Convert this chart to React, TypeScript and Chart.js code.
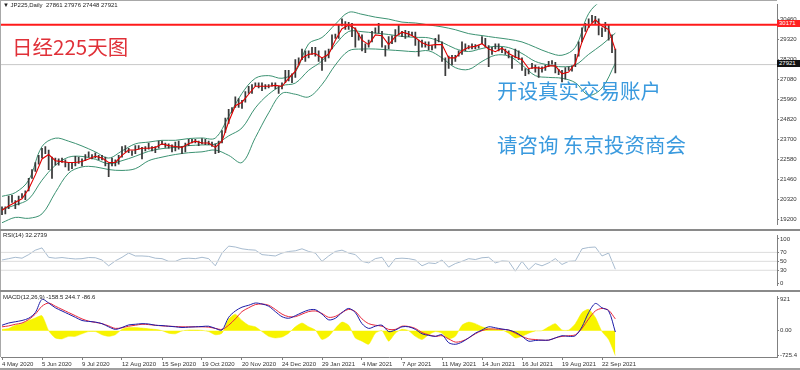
import React, { useEffect, useRef } from 'react';
import { Chart, registerables } from 'chart.js';
Chart.register(...registerables);

const FONT = "'Liberation Sans', Arial, sans-serif";
const CJK = "'Noto Sans CJK SC', sans-serif";

// ---------- data ----------
const candleStep = 2;
const candleHigh = [
  19900, 19900, 20500, 20550, 20250, 20500, 20650, 20800, 21500, 22000, 22400, 22800, 23200, 23300, 23100, 22700,
  22650, 22600, 22650, 22550, 22400, 22400, 22750, 22700, 22600, 22850, 23000, 22850, 22950, 22800, 22800, 22700,
  22350, 22650, 22550, 22800, 23300, 23350, 23200, 23050, 23350, 23350, 23250, 23300, 23500, 23300, 23300, 23600,
  23600, 23500, 23450, 23400, 23550, 23600, 23300, 23500, 23700, 23700, 23700, 23600, 23750, 23700, 23600, 23550,
  23450, 23600, 24200, 24900, 25400, 25500, 26100, 26000, 25900, 26400, 26700, 26800, 26900, 26900, 26900, 26800,
  26800, 26900, 26900, 26700, 26900, 27600, 27600, 27400, 28200, 28300, 28800, 28700, 28700, 28900, 28900, 28700,
  28300, 28700, 28800, 29600, 29650, 30150, 30500, 30350, 30300, 30250, 30000, 29700, 29600, 29100, 29300, 29800,
  30000, 30250, 29800, 29000, 29500, 29550, 29900, 30150, 29800, 29850, 29800, 29750, 29750, 29300, 29300, 29200,
  29200, 29000, 29400, 29600, 29200, 28300, 28400, 28450, 28450, 28700, 29200, 29100, 29000, 29100, 29050, 29000,
  29500, 29400, 29000, 28900, 29100, 29100, 28900, 28800, 28700, 28400, 28800, 28700, 28300, 27700, 27700, 28000,
  27900, 27800, 27800, 27900, 28100, 28150, 28050, 27650, 27600, 27750, 27800, 27850, 28500, 29200, 30000, 30250,
  30500, 30700, 30650, 30500, 30000, 30300, 30200, 29600, 28800
];
const candleLow = [
  19450, 19500, 19800, 20150, 19800, 20000, 20400, 20300, 20800, 21500, 21900, 22300, 22650, 22900, 22000, 21500,
  22250, 22250, 22400, 22150, 21950, 22050, 22200, 22350, 22200, 22500, 22700, 22600, 22650, 22550, 22550, 22200,
  21600, 22200, 22200, 22300, 22700, 23000, 22950, 22800, 22900, 23150, 22600, 23050, 23150, 23050, 22950, 23200,
  23400, 23250, 23200, 23000, 23050, 23150, 22900, 23000, 23350, 23500, 23500, 23350, 23450, 23400, 23400, 23300,
  22900, 22950, 23500, 24100, 24600, 25200, 25500, 25500, 25450, 25800, 26300, 26300, 26700, 26600, 26450, 26550,
  26600, 26700, 26550, 26300, 26550, 26900, 27000, 26900, 27200, 27900, 28200, 28100, 28300, 28500, 28400, 28100,
  27600, 28100, 28300, 28800, 29400, 29400, 30100, 29900, 29900, 29500, 28900, 29300, 28700, 28600, 28900, 29200,
  29700, 29700, 28900, 28400, 28800, 29100, 29200, 29600, 29500, 29400, 29500, 29550, 29000, 28400, 28900, 28900,
  28750, 28750, 28850, 29200, 28100, 27300, 27700, 27900, 28100, 28400, 28500, 28700, 28800, 28800, 28800, 28850,
  29100, 28900, 27800, 28500, 28800, 28700, 28600, 28500, 28300, 27700, 28300, 28200, 27600, 27300, 27400, 27700,
  27500, 27200, 27500, 27600, 27800, 27950, 27450, 27350, 26950, 27100, 27600, 27550, 27800, 28400, 29200, 29800,
  30000, 30300, 30200, 29600, 29500, 29800, 29300, 28600, 27450
];

const maStep = 4;
const maRed = [
  19700, 19950, 20150, 20350, 20900, 21700, 22600, 22850, 22500, 22450, 22400, 22400, 22450, 22600, 22750, 22650,
  22400, 22400, 22800, 23100, 23100, 23200, 23200, 23250, 23450, 23350, 23300, 23250, 23450, 23600, 23500, 23500,
  23250, 23600, 24700, 25600, 25800, 26250, 26700, 26700, 26700, 26750, 26700, 27150, 27550, 28300, 28500, 28550,
  28300, 28500, 29300, 29950, 30150, 29950, 29300, 29050, 29600, 29550, 29050, 29500, 29750, 29650, 29450, 29150,
  29000, 29050, 29050, 28300, 28300, 28700, 28900, 28950, 29100, 28800, 28650, 28850, 28550, 28350, 28200, 27700,
  27750, 27700, 27850, 27850, 27400, 27500, 28000, 29200, 30050, 30450, 30100, 29900, 28750
];

const bandStep = 8;
const bbUpper = [
  20490, 20700, 21400, 23300, 23770, 23600, 23330, 23000, 22650, 23050, 23450, 23550, 23650, 23650, 23750, 23780,
  23780, 25000, 26300, 27150, 27300, 27150, 27500, 29100, 29450, 30200, 30870, 30760, 30600, 30490, 30320, 30270,
  30160, 30050, 29890, 29670, 29560, 29450, 29350, 29200, 28900, 28600, 28450, 28900, 30800, 31500, 31400
];
const bbMiddle = [
  19750, 20000, 20330, 21400, 22240, 22700, 22740, 22580, 22330, 22500, 22750, 23030, 23180, 23250, 23350, 23390,
  23440, 23900, 24350, 25480, 26250, 26730, 26880, 27600, 28130, 29050, 29790, 29780, 29700, 29620, 29510, 29460,
  29430, 29180, 28820, 28660, 28830, 28950, 28880, 28550, 28100, 27900, 27800, 27900, 28500, 29050, 29700
];
const bbLower = [
  19000, 19300, 19250, 19500, 20700, 21800, 22150, 22150, 22000, 21950, 22050, 22500, 22700, 22850, 22950, 23000,
  23100, 22800, 22400, 23800, 25200, 26300, 26250, 26100, 26800, 27900, 28700, 28800, 28800, 28750, 28700, 28650,
  28700, 28300, 27750, 27650, 28100, 28450, 28400, 27900, 27300, 27200, 27150, 26900, 26200, 26600, 28000
];

const oscStep = 4;
const rsiValues = [
  53, 56, 59, 57, 65, 75, 80, 59, 57, 58.5, 56.6, 55.3, 56, 58.5, 58, 53, 40, 51, 59, 68.5,
  62, 62, 61, 57, 56, 50, 50, 56, 57, 56, 59, 56, 40, 68.5, 84, 82, 78, 76, 75, 65,
  63.5, 62, 68.5, 72, 73.5, 78, 72, 68.5, 50, 62, 72, 75, 68.5, 65, 50, 46.5, 56, 59, 37, 56,
  57, 56, 53, 40, 46.5, 45, 53, 37, 45, 50, 56, 54, 58, 59, 46.5, 51, 50, 28, 50, 31,
  45, 40, 46.5, 56, 43, 50, 51, 78, 81, 82, 62, 68.5, 32.3
];
const macdMain = [
  157, 222, 258, 295, 360, 526, 910, 803, 665, 572, 480, 388, 295, 268, 249, 203, 111, 37, 92, 166,
  185, 203, 194, 157, 148, 129, 111, 92, 102, 111, 120, 129, 65, 18, 388, 572, 683, 738, 803, 775,
  711, 554, 406, 360, 434, 526, 600, 609, 480, 314, 360, 526, 646, 526, 203, 65, 129, 157, -28, 18,
  111, 111, 37, -92, -138, -166, -120, -351, -397, -332, -212, -74, 18, 111, 83, 46, 18, -46, -166, -305,
  -286, -277, -277, -212, -148, -166, -148, 111, 526, 790, 665, 572, -40
];
const macdSignal = [
  111, 138, 185, 222, 323, 480, 711, 803, 711, 618, 526, 434, 342, 277, 240, 203, 138, 65, 83, 129,
  157, 185, 175, 157, 138, 129, 120, 111, 111, 111, 111, 102, 65, 37, 157, 342, 554, 665, 757, 775,
  738, 618, 480, 406, 406, 480, 554, 572, 498, 388, 415, 526, 618, 554, 342, 203, 157, 129, 37, 37,
  129, 120, 65, -55, -120, -166, -148, -240, -332, -305, -212, -92, 0, 46, 46, 37, 18, -74, -166, -240,
  -258, -277, -277, -212, -166, -148, -120, 65, 342, 572, 646, 591, 340
];
const macdHist = [
  37, 65, 157, 203, 295, 369, 434, 0, -212, -240, -166, -166, -92, -28, -28, -120, -166, -120, 37, 92,
  92, 74, 55, 37, 0, -74, -92, -9, 18, 18, 9, -28, -120, -74, 342, 480, 295, 157, 111, -28,
  -166, -212, -185, -74, 111, 222, 111, 18, -258, -166, 65, 249, 157, -212, -305, -397, -74, 0, -305, -74,
  37, 0, -166, -258, -120, -28, -74, -240, -166, 157, 249, 203, 111, 65, 37, 18, -74, -212, -166, -74,
  -9, 0, 111, 203, 18, 18, 203, 526, 618, 388, -28, -258, -725
];

const dateStep = 24;
const dateLabels = [
  '4 May 2020', '5 Jun 2020', '9 Jul 2020', '12 Aug 2020', '15 Sep 2020', '19 Oct 2020', '20 Nov 2020', '24 Dec 2020',
  '29 Jan 2021', '4 Mar 2021', '7 Apr 2021', '11 May 2021', '14 Jun 2021', '16 Jul 2021', '19 Aug 2021', '22 Sep 2021'
];
const priceTicks = [30460, 29320, 28200, 27080, 25960, 24820, 23700, 22580, 21460, 20320, 19200];
const rsiTicks = [100, 70, 50, 30, 0];
const rsiLevels = [70, 50, 30];
const macdTicks = [921, 0, -725.4];
const resistanceLevel = 30171;
const lastPrice = 27921;
const headerText = '\u25BC JP225,Daily  27861 27976 27448 27921';
const rsiTitle = 'RSI(14) 32.2739';
const macdTitle = 'MACD(12,26,9) -158.5 244.7 -86.6';

// ---------- layout constants ----------
const X_MIN = -0.6;
const X_MAX = 465;
const AXIS_W = 23;

const pts = (arr: number[], step: number) => arr.map((y, i) => ({ x: i * step, y }));

function xScale(show: boolean): any {
  return {
    type: 'linear', min: X_MIN, max: X_MAX, offset: false, display: show,
    grid: { display: false, offset: false },
  };
}

function yScale(min: number, max: number, ticks: number[], fmt?: (v: number) => string): any {
  return {
    type: 'linear', position: 'right', min, max,
    afterBuildTicks: (s: any) => { s.ticks = ticks.map((v) => ({ value: v })); },
    afterFit: (s: any) => { s.width = AXIS_W; },
    ticks: {
      font: { size: 6, family: FONT }, color: '#333', padding: 1,
      callback: (v: any) => (fmt ? fmt(Number(v)) : String(v)),
    },
    grid: { display: true, drawOnChartArea: false, tickLength: 2, color: '#808080' },
    border: { display: true, color: '#808080' },
  };
}

const baseOptions = (padding: any) => ({
  responsive: false,
  animation: false as const,
  devicePixelRatio: 1,
  layout: { padding },
  plugins: { legend: { display: false }, tooltip: { enabled: false } },
  elements: { point: { radius: 0 }, line: { tension: 0 } },
  events: [] as any[],
});

export default function App() {
  const mainRef = useRef<HTMLCanvasElement>(null);
  const rsiRef = useRef<HTMLCanvasElement>(null);
  const macdRef = useRef<HTMLCanvasElement>(null);

  useEffect(() => {
    document.body.style.margin = '0';
    const charts: Chart[] = [];
    const green = '#3c9272';

    charts.push(new Chart(mainRef.current!, {
      type: 'line',
      data: {
        datasets: [
          { type: 'line', data: [{ x: X_MIN, y: resistanceLevel }, { x: X_MAX, y: resistanceLevel }], borderColor: '#ff1a1a', borderWidth: 2, order: -1 } as any,
          { type: 'line', data: pts(maRed, maStep), borderColor: '#e00000', borderWidth: 1.1, order: 0 },
          {
            type: 'bar', data: candleHigh.map((h, i) => ({ x: i * candleStep, y: [candleLow[i], h] })),
            backgroundColor: '#3a3a3a', barThickness: 1.1, borderWidth: 0, order: 1,
          } as any,
          { type: 'line', data: pts(bbUpper, bandStep), borderColor: green, borderWidth: 1, tension: 0.35, order: 2 } as any,
          { type: 'line', data: pts(bbMiddle, bandStep), borderColor: green, borderWidth: 1, tension: 0.35, order: 2 } as any,
          { type: 'line', data: pts(bbLower, bandStep), borderColor: green, borderWidth: 1, tension: 0.35, order: 2 } as any,
          { type: 'line', data: [{ x: X_MIN, y: lastPrice }, { x: X_MAX, y: lastPrice }], borderColor: '#c8c8c8', borderWidth: 1, order: 3 } as any,
        ],
      },
      options: {
        ...baseOptions({ left: 1, right: 0, top: 2, bottom: 0 }),
        scales: { x: xScale(false), y: yScale(18906, 31307, priceTicks) },
      } as any,
    }));

    charts.push(new Chart(rsiRef.current!, {
      type: 'line',
      data: {
        datasets: [
          ...rsiLevels.map((lv) => ({ data: [{ x: X_MIN, y: lv }, { x: X_MAX, y: lv }], borderColor: '#dcdcdc', borderWidth: 1 })),
          { data: pts(rsiValues, oscStep), borderColor: '#9db3c9', borderWidth: 0.9 },
        ],
      },
      options: {
        ...baseOptions({ left: 1, right: 0, top: 0, bottom: 0 }),
        scales: { x: xScale(false), y: yScale(-3.8, 107.5, rsiTicks) },
      } as any,
    }));

    const mx = xScale(true);
    mx.afterBuildTicks = (s: any) => { s.ticks = dateLabels.map((_, i) => ({ value: i * dateStep })); };
    mx.afterFit = (s: any) => { s.height = 13; };
    mx.ticks = {
      align: 'start', autoSkip: false, maxRotation: 0, minRotation: 0, padding: 1,
      font: { size: 6, family: FONT }, color: '#333',
      callback: (_v: any, i: number) => dateLabels[i],
    };
    mx.grid = { display: true, drawOnChartArea: false, tickLength: 3, color: '#808080', offset: false };
    mx.border = { display: true, color: '#808080' };

    charts.push(new Chart(macdRef.current!, {
      type: 'line',
      data: {
        datasets: [
          { data: pts(macdMain, oscStep), borderColor: '#1c1ca8', borderWidth: 1, tension: 0.3, order: 0 } as any,
          { data: pts(macdSignal, oscStep), borderColor: '#e8283c', borderWidth: 1, tension: 0.3, order: 1 } as any,
          { data: pts(macdHist, oscStep), borderColor: '#f4f000', backgroundColor: '#f8f400', borderWidth: 0.5, fill: 'origin', tension: 0.2, order: 2 } as any,
        ],
      },
      options: {
        ...baseOptions({ left: 1, right: 0, top: 1, bottom: 0 }),
        scales: {
          x: mx,
          y: yScale(-766.6, 990, macdTicks, (v) => (v === 0 ? '0.00' : String(v))),
        },
      } as any,
    }));

    return () => { charts.forEach((c) => c.destroy()); };
  }, []);

  const abs = (s: React.CSSProperties): React.CSSProperties => ({ position: 'absolute', ...s });
  const small: React.CSSProperties = { fontFamily: FONT, fontSize: 6, color: '#222', whiteSpace: 'pre', lineHeight: '7px' };
  const boxText: React.CSSProperties = { fontFamily: FONT, fontSize: 6, lineHeight: '7px', paddingLeft: 2, color: '#fff' };

  return (
    <div style={{ position: 'relative', width: 800, height: 370, background: '#fff', overflow: 'hidden' }}>
      <canvas ref={mainRef} width={800} height={229} style={abs({ left: 0, top: 0 })} />
      <canvas ref={rsiRef} width={800} height={59} style={abs({ left: 0, top: 231 })} />
      <canvas ref={macdRef} width={800} height={78} style={abs({ left: 0, top: 292 })} />

      <div style={abs({ left: 0, top: 0, width: 777, height: 1, background: '#a8a8a8' })} />
      <div style={abs({ left: 0, top: 0, width: 1, height: 357, background: '#a8a8a8' })} />
      <div style={abs({ left: 0, top: 229, width: 800, height: 2, background: '#8a8a8a' })} />
      <div style={abs({ left: 0, top: 290, width: 800, height: 2, background: '#8a8a8a' })} />
      <div style={abs({ left: 0, top: 368, width: 800, height: 2, background: '#a0a0a0' })} />

      <div style={abs({ left: 3, top: 2, ...small })}>{headerText}</div>
      <div style={abs({ left: 3, top: 232, ...small })}>{rsiTitle}</div>
      <div style={abs({ left: 3, top: 294, ...small })}>{macdTitle}</div>

      <div style={abs({ left: 777, top: 20, width: 21, height: 7, background: '#ff2020', ...boxText })}>{String(resistanceLevel)}</div>
      <div style={abs({ left: 777, top: 60, width: 21, height: 7, background: '#111', ...boxText })}>{String(lastPrice)}</div>

      <div style={abs({ left: 12, top: 32, fontFamily: CJK, fontSize: 20.5, color: '#e03038', whiteSpace: 'nowrap', lineHeight: '28px' })}>日经225天图</div>
      <div style={abs({ left: 497, top: 77, fontFamily: CJK, fontSize: 20.5, color: '#3a9ade', whiteSpace: 'nowrap', lineHeight: '26px' })}>开设真实交易账户</div>
      <div style={abs({ left: 497, top: 131, fontFamily: CJK, fontSize: 20.5, color: '#3a9ade', whiteSpace: 'nowrap', lineHeight: '26px' })}>请咨询 东京投资商会</div>
    </div>
  );
}
